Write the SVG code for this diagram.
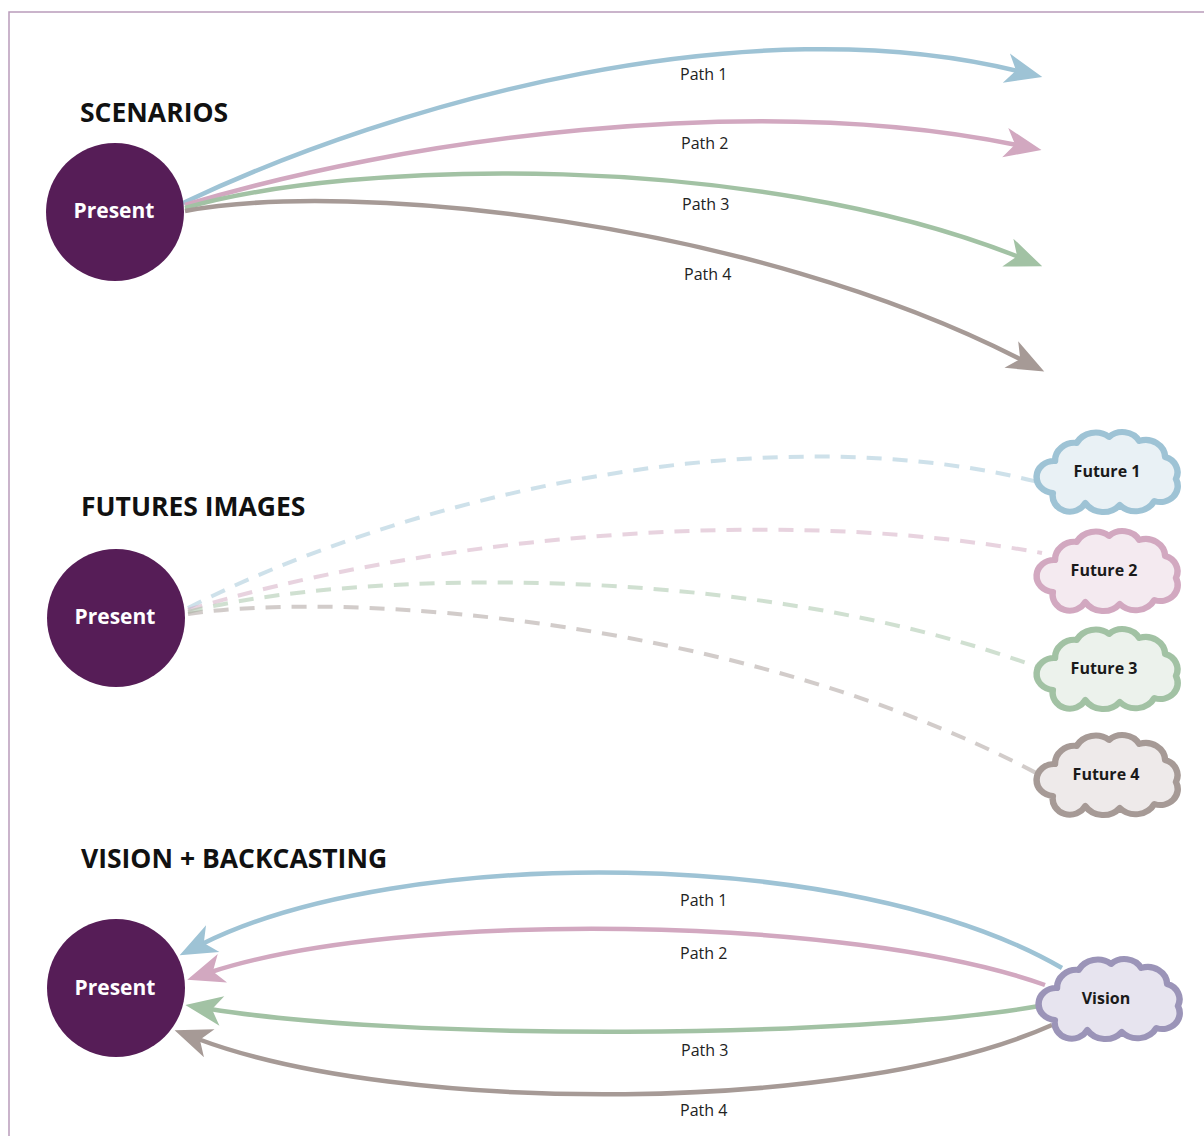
<svg xmlns="http://www.w3.org/2000/svg" width="1204" height="1136" viewBox="0 0 1204 1136">
<style>
.frame{stroke:#b99cba;stroke-width:1.5;fill:none}
.head{font-family:"Open Sans","Noto Sans",sans-serif;font-weight:700;font-size:26.5px;fill:#111}
.lbl{font-family:"Open Sans","Noto Sans",sans-serif;font-size:16px;fill:#222}
.pres circle{fill:#561d57}
.pres text{font-family:"Open Sans","Noto Sans",sans-serif;font-weight:700;font-size:21px;fill:#fff;text-anchor:middle}
.cloud text{font-family:"Open Sans","Noto Sans",sans-serif;font-weight:700;font-size:16px;fill:#1a1a1a;text-anchor:middle}
.cloud use{stroke-width:6;stroke-linejoin:round}
.ln{fill:none;stroke-width:4.5}
.ds{fill:none;stroke-width:4;stroke-dasharray:15 11;opacity:0.5}
.c1{stroke:#9ec3d5}.c2{stroke:#d2a8c0}.c3{stroke:#a2c2a4}.c4{stroke:#a69a96}
</style>
<defs>
<marker id="a1" viewBox="0 0 40 32" markerWidth="40" markerHeight="32" refX="13" refY="16" orient="auto" markerUnits="userSpaceOnUse"><path d="M1,1 L38,16 L1,31 L11,16 Z" fill="#9ec3d5"/></marker>
<marker id="a2" viewBox="0 0 40 32" markerWidth="40" markerHeight="32" refX="13" refY="16" orient="auto" markerUnits="userSpaceOnUse"><path d="M1,1 L38,16 L1,31 L11,16 Z" fill="#d2a8c0"/></marker>
<marker id="a3" viewBox="0 0 40 32" markerWidth="40" markerHeight="32" refX="13" refY="16" orient="auto" markerUnits="userSpaceOnUse"><path d="M1,1 L38,16 L1,31 L11,16 Z" fill="#a2c2a4"/></marker>
<marker id="a4" viewBox="0 0 40 32" markerWidth="40" markerHeight="32" refX="13" refY="16" orient="auto" markerUnits="userSpaceOnUse"><path d="M1,1 L38,16 L1,31 L11,16 Z" fill="#a69a96"/></marker>
<path id="cl" d="M-50,-10 A18 18 0 0 1 -30,-28 A20 20 0 0 1 0,-34 A18 18 0 0 1 28,-30 A18 18 0 0 1 52,-14 A16 16 0 0 1 62,8 A16 16 0 0 1 42,30 A20 20 0 0 1 10,34 A20 20 0 0 1 -22,32 A16 16 0 0 1 -52,22 A16 16 0 0 1 -50,-10 Z"/>
</defs>
<rect width="1204" height="1136" fill="#fff"/>
<path class="frame" d="M1204,12 H9 V1136"/>
<text class="head" x="80" y="122">SCENARIOS</text>
<text class="head" x="81" y="516">FUTURES IMAGES</text>
<text class="head" x="81" y="868">VISION + BACKCASTING</text>
<g id="connectors">
<path class="ln c1" d="M183,203 C400,100 750,5 1018,71" marker-end="url(#a1)"/>
<path class="ln c2" d="M185,205 C400,140 750,90 1017,145" marker-end="url(#a2)"/>
<path class="ln c3" d="M185,208 C350,160 750,150 1019,257" marker-end="url(#a3)"/>
<path class="ln c4" d="M185,211 C350,180 750,220 1022,360" marker-end="url(#a4)"/>
<path class="ds c1" d="M188,608 C400,500 760,410 1042,483"/>
<path class="ds c2" d="M188,610 C400,545 750,500 1042,553"/>
<path class="ds c3" d="M188,612 C350,570 750,560 1040,668"/>
<path class="ds c4" d="M188,614 C350,590 750,620 1040,775"/>
<path class="ln c1" d="M1062,968 C850,845 400,845 202,944" marker-end="url(#a1)"/>
<path class="ln c2" d="M1045,985 C850,915 400,910 211,972" marker-end="url(#a2)"/>
<path class="ln c3" d="M1045,1005 C850,1040 400,1040 210,1009" marker-end="url(#a3)"/>
<path class="ln c4" d="M1052,1025 C850,1115 400,1115 198,1039" marker-end="url(#a4)"/>
</g>
<g id="labels">
<text class="lbl" x="680" y="80">Path 1</text>
<text class="lbl" x="681" y="149">Path 2</text>
<text class="lbl" x="682" y="210">Path 3</text>
<text class="lbl" x="684" y="280">Path 4</text>
<text class="lbl" x="680" y="906">Path 1</text>
<text class="lbl" x="680" y="959">Path 2</text>
<text class="lbl" x="681" y="1056">Path 3</text>
<text class="lbl" x="680" y="1116">Path 4</text>
</g>
<g id="present1" class="pres"><circle cx="115" cy="212" r="69"/><text x="114" y="218">Present</text></g>
<g id="present2" class="pres"><circle cx="116" cy="618" r="69"/><text x="115" y="624">Present</text></g>
<g id="present3" class="pres"><circle cx="116" cy="988" r="69"/><text x="115" y="995">Present</text></g>
<g id="future1" class="cloud"><use href="#cl" transform="translate(1109,471) scale(1.08,1)" fill="#e9f1f5" stroke="#9ec3d5"/><text x="1107" y="477">Future 1</text></g>
<g id="future2" class="cloud"><use href="#cl" transform="translate(1109,570) scale(1.08,1)" fill="#f4eaf0" stroke="#d2a8c0"/><text x="1104" y="576">Future 2</text></g>
<g id="future3" class="cloud"><use href="#cl" transform="translate(1109,668) scale(1.08,1)" fill="#ecf2ec" stroke="#a2c2a4"/><text x="1104" y="674">Future 3</text></g>
<g id="future4" class="cloud"><use href="#cl" transform="translate(1109,774) scale(1.08,1)" fill="#eeeaea" stroke="#a69a96"/><text x="1106" y="780">Future 4</text></g>
<g id="vision" class="cloud"><use href="#cl" transform="translate(1111,998) scale(1.08,1)" fill="#e7e4ef" stroke="#9b94b8"/><text x="1106" y="1004">Vision</text></g>
</svg>
